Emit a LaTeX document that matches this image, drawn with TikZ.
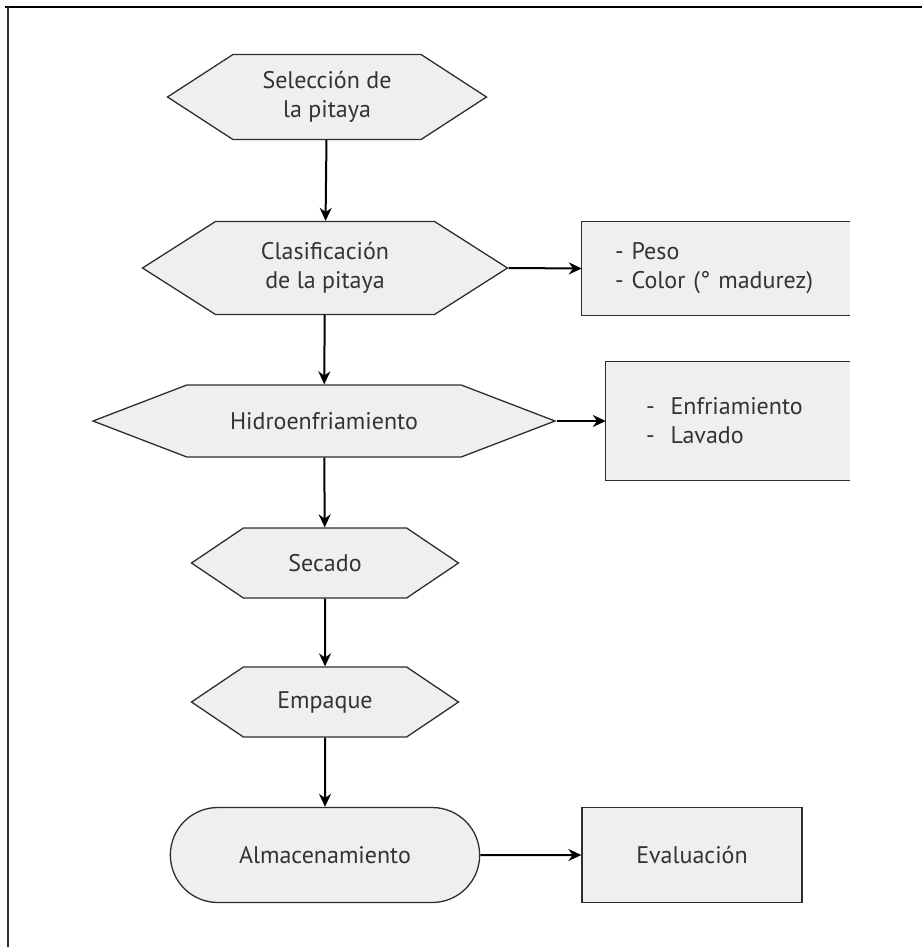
\documentclass[tikz,border=0pt]{standalone}
\usepackage{fontspec}
\setmainfont{PT Sans}
\usetikzlibrary{shapes,arrows.meta,positioning}
\definecolor{boxgray}{HTML}{EEEFEF}
\definecolor{textgray}{HTML}{333333}
\definecolor{linegray}{HTML}{2E2E2E}

\begin{document}
\begin{tikzpicture}[x=1pt,y=-1pt]
  \tikzset{ h/.style={signal,signal to=east and west,draw=linegray,fill=boxgray,line width=1.3pt,
      text=textgray,align=center,inner sep=0pt,font=\fontsize{24}{29}\selectfont},
    b/.style={rectangle,fill=boxgray,text=textgray,align=left,inner ysep=0pt,font=\fontsize{24}{29}\selectfont},
    r/.style={rounded rectangle,draw=linegray,fill=boxgray,line width=1.3pt,text=textgray,
      font=\fontsize{24}{29}\selectfont},
    a/.style={-{Stealth[length=13pt,width=12pt]},line width=2pt},
  }
  \useasboundingbox (0,0) rectangle (922,947);
  % frame
  \draw[line width=2pt] (5,7) -- (922,7);
  \draw[line width=1.5pt,linegray] (8,7) -- (8,947);

  \node[h,minimum width=319,minimum height=85,signal pointer angle=66] (1) at (327,97) {Selección de\\la pitaya};
  \node[h,minimum width=365,minimum height=93,signal pointer angle=65] (2) at (325,268) {Clasificación\\de la pitaya};
  \node[h,minimum width=462,minimum height=72,signal pointer angle=42] (3) at (324,421) {Hidroenfriamiento};
  \node[h,minimum width=267,minimum height=70,signal pointer angle=68] (4) at (325,563) {Secado};
  \node[h,minimum width=267,minimum height=70,signal pointer angle=68] (5) at (325,702) {Empaque};
  \node[r,minimum width=316,minimum height=95] (6) at (325,855) {Almacenamiento};

  \node[b,minimum height=93,text width=202,inner xsep=33] (a) at (716,268.5) {- Peso\\- Color (° madurez)};
  \node[b,minimum height=118,text width=164,inner xsep=40] (b) at (728,421) {-~~Enfriamiento\\-~~Lavado};
  \node[b,draw=linegray,line width=1.3pt,align=center,minimum width=220,minimum height=95] (c) at (692,855) {Evaluación};
  \draw[linegray,line width=1.3pt] (a.north east) -- (a.north west) -- (a.south west) -- (a.south east);
  \draw[linegray,line width=1.3pt] (b.north east) -- (b.north west) -- (b.south west) -- (b.south east);

  % the arrows between the steps
  \draw[a] (1) -- (2);
  \draw[a] (2) -- (3);
  \draw[a] (3) -- (4);
  \draw[a] (4) -- (5);
  \draw[a] (5) -- (6);
  \draw[a] (2.east) -- (a.west);
  \draw[a] (3.east) -- (b.west);
  \draw[a] (6) -- (c);
\end{tikzpicture}
\end{document}
